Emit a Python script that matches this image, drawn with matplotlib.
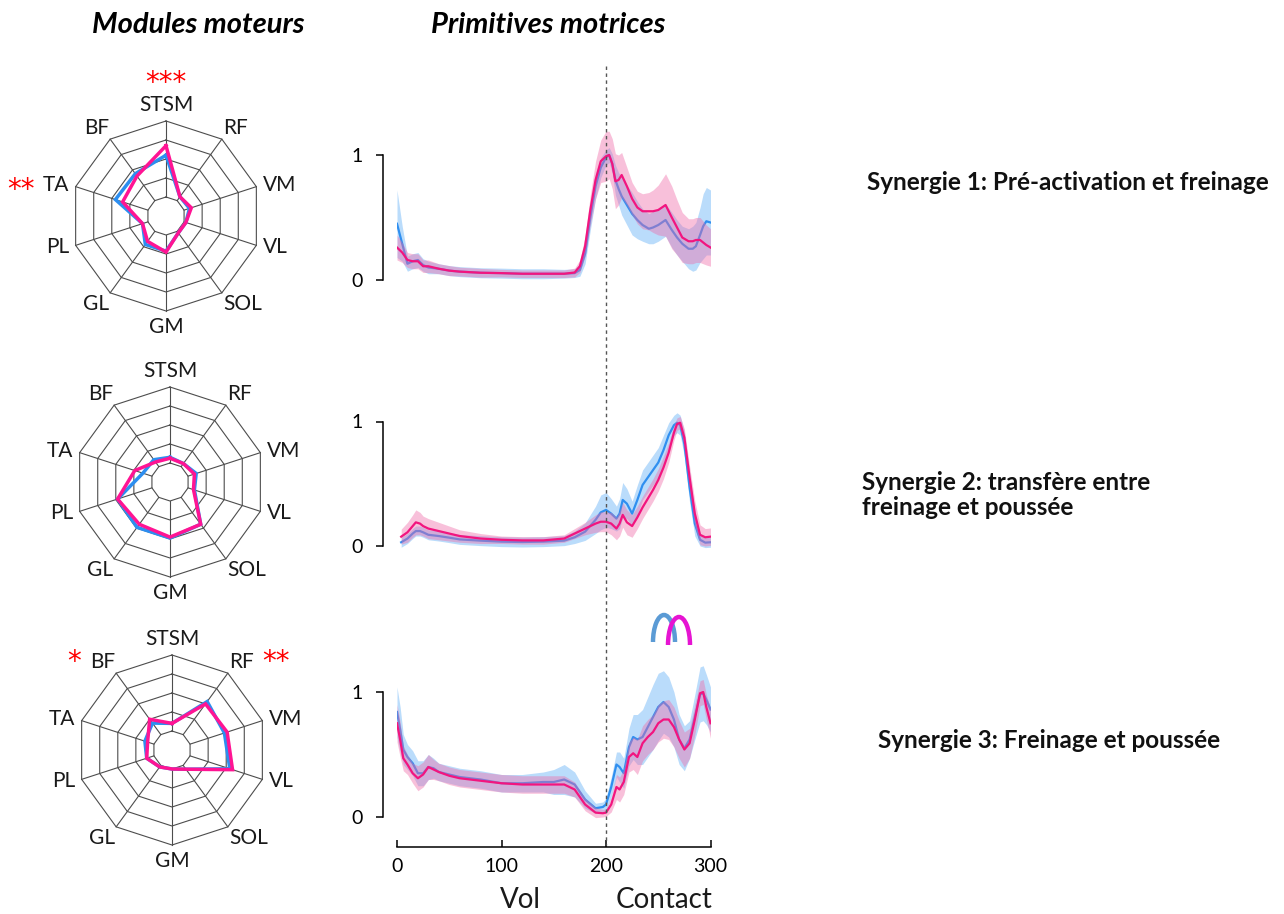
import numpy as np
import matplotlib
matplotlib.use("Agg")
import matplotlib.pyplot as plt
from matplotlib.patches import Arc
from matplotlib.lines import Line2D
import matplotlib.transforms as mtrans

plt.rcParams['font.family'] = ['Lato', 'DejaVu Sans']

# ---------------- data ----------------
muscles = ["STSM", "RF", "VM", "VL", "SOL", "GM", "GL", "PL", "TA", "BF"]

radar1_blue = [0.64, 0.25, 0.26, 0.22, 0.22, 0.37, 0.37, 0.26, 0.56, 0.55]
radar1_pink = [0.74, 0.25, 0.28, 0.22, 0.22, 0.38, 0.33, 0.26, 0.48, 0.52]
radar2_blue = [0.26, 0.24, 0.29, 0.27, 0.55, 0.59, 0.59, 0.58, 0.30, 0.29]
radar2_pink = [0.25, 0.24, 0.27, 0.26, 0.55, 0.58, 0.55, 0.58, 0.39, 0.26]
radar3_blue = [0.28, 0.63, 0.58, 0.64, 0.25, 0.20, 0.22, 0.28, 0.30, 0.35]
radar3_pink = [0.28, 0.60, 0.61, 0.67, 0.25, 0.20, 0.22, 0.28, 0.27, 0.40]

radar1_stars = {"STSM": "***", "TA": "**"}
radar2_stars = {}
radar3_stars = {"BF": "*", "RF": "**"}

# Synergy 1
x1 = [0, 5, 10, 15, 20, 25, 30, 40, 50, 60, 80, 100, 120, 140, 160, 170, 175, 180, 185, 190,
      195, 200, 203, 206, 209, 212, 215, 220, 225, 230, 235, 241, 245, 250, 257, 263, 268, 273,
      279, 283, 286, 290, 293, 296, 300]
blue1 = [0.45, 0.29, 0.13, 0.15, 0.16, 0.12, 0.10, 0.09, 0.075, 0.067, 0.058, 0.055, 0.05, 0.05,
         0.05, 0.055, 0.08, 0.21, 0.50, 0.75, 0.90, 0.98, 1.00, 0.93, 0.80, 0.73, 0.67, 0.60, 0.53,
         0.48, 0.44, 0.41, 0.42, 0.44, 0.48, 0.40, 0.34, 0.29, 0.25, 0.25, 0.27, 0.36, 0.43, 0.47,
         0.46]
blue1_sd = [0.27, 0.14, 0.06, 0.06, 0.06, 0.05, 0.05, 0.04, 0.04, 0.04, 0.04, 0.04, 0.04, 0.04,
            0.035, 0.035, 0.05, 0.08, 0.10, 0.10, 0.08, 0.06, 0.06, 0.08, 0.12, 0.13, 0.15, 0.16,
            0.17, 0.15, 0.13, 0.12, 0.13, 0.13, 0.13, 0.14, 0.14, 0.14, 0.16, 0.18, 0.19, 0.22,
            0.26, 0.27, 0.26]
pink1 = [0.26, 0.22, 0.16, 0.15, 0.15, 0.11, 0.11, 0.09, 0.075, 0.067, 0.058, 0.055, 0.05, 0.05,
         0.05, 0.06, 0.11, 0.27, 0.56, 0.80, 0.95, 0.99, 1.00, 0.93, 0.79, 0.80, 0.84, 0.75, 0.65,
         0.58, 0.55, 0.55, 0.55, 0.56, 0.60, 0.50, 0.42, 0.34, 0.31, 0.31, 0.32, 0.32, 0.30, 0.28,
         0.26]
pink1_sd = [0.10, 0.08, 0.06, 0.06, 0.06, 0.05, 0.05, 0.04, 0.04, 0.035, 0.035, 0.03, 0.03, 0.03,
            0.03, 0.035, 0.05, 0.08, 0.12, 0.15, 0.17, 0.20, 0.19, 0.20, 0.22, 0.20, 0.18, 0.15,
            0.13, 0.13, 0.14, 0.15, 0.17, 0.20, 0.25, 0.25, 0.22, 0.20, 0.18, 0.18, 0.18, 0.18,
            0.17, 0.16, 0.15]

# Synergy 2
x2 = [4, 10, 15, 18, 22, 25, 30, 40, 50, 60, 80, 100, 120, 140, 160, 170, 180, 190, 195, 200,
      205, 210, 213, 216, 220, 225, 230, 235, 240, 245, 250, 255, 260, 265, 268, 271, 275, 280,
      285, 290, 295, 300]
blue2 = [0.03, 0.06, 0.10, 0.12, 0.12, 0.11, 0.09, 0.08, 0.067, 0.053, 0.043, 0.035, 0.032, 0.035,
         0.043, 0.07, 0.115, 0.21, 0.27, 0.29, 0.26, 0.22, 0.26, 0.37, 0.34, 0.26, 0.37, 0.49, 0.55,
         0.61, 0.67, 0.77, 0.89, 0.97, 0.99, 0.97, 0.82, 0.47, 0.18, 0.05, 0.027, 0.03]
blue2_sd = [0.04, 0.04, 0.04, 0.04, 0.04, 0.04, 0.04, 0.04, 0.04, 0.04, 0.04, 0.04, 0.04, 0.04,
            0.04, 0.05, 0.07, 0.11, 0.14, 0.14, 0.12, 0.10, 0.12, 0.14, 0.12, 0.10, 0.12, 0.12,
            0.12, 0.12, 0.12, 0.12, 0.10, 0.08, 0.08, 0.08, 0.10, 0.12, 0.10, 0.05, 0.04, 0.04]
pink2 = [0.075, 0.11, 0.16, 0.19, 0.18, 0.16, 0.14, 0.12, 0.10, 0.08, 0.06, 0.05, 0.045, 0.045,
         0.06, 0.10, 0.14, 0.18, 0.195, 0.195, 0.18, 0.14, 0.18, 0.25, 0.19, 0.16, 0.23, 0.31, 0.38,
         0.45, 0.53, 0.63, 0.75, 0.91, 0.98, 0.99, 0.87, 0.55, 0.26, 0.09, 0.07, 0.075]
pink2_sd = [0.06, 0.08, 0.09, 0.10, 0.09, 0.08, 0.08, 0.07, 0.06, 0.05, 0.04, 0.03, 0.03, 0.03,
            0.03, 0.04, 0.05, 0.07, 0.08, 0.08, 0.09, 0.09, 0.10, 0.10, 0.10, 0.09, 0.09, 0.09,
            0.09, 0.09, 0.09, 0.09, 0.08, 0.06, 0.05, 0.05, 0.07, 0.09, 0.10, 0.08, 0.07, 0.07]

# Synergy 3
x3 = [0, 3, 6, 10, 15, 20, 25, 30, 35, 40, 50, 60, 80, 100, 120, 140, 150, 160, 170, 180, 190,
      197, 200, 205, 210, 213, 217, 222, 226, 230, 235, 240, 245, 250, 255, 260, 265, 270, 275,
      280, 285, 290, 293, 296, 300]
blue3 = [0.84, 0.70, 0.54, 0.48, 0.43, 0.35, 0.35, 0.40, 0.39, 0.36, 0.34, 0.32, 0.30, 0.27, 0.27,
         0.28, 0.28, 0.30, 0.26, 0.14, 0.07, 0.08, 0.10, 0.24, 0.42, 0.40, 0.35, 0.56, 0.64, 0.62,
         0.64, 0.72, 0.80, 0.88, 0.92, 0.88, 0.78, 0.62, 0.55, 0.62, 0.80, 0.98, 0.99, 0.94, 0.86]
blue3_sd = [0.20, 0.18, 0.12, 0.10, 0.10, 0.10, 0.10, 0.10, 0.08, 0.07, 0.07, 0.07, 0.07, 0.07,
            0.07, 0.08, 0.10, 0.12, 0.10, 0.07, 0.04, 0.04, 0.05, 0.08, 0.10, 0.12, 0.12, 0.15,
            0.18, 0.20, 0.22, 0.24, 0.26, 0.27, 0.25, 0.24, 0.22, 0.20, 0.18, 0.15, 0.18, 0.22,
            0.22, 0.20, 0.18]
pink3 = [0.75, 0.62, 0.47, 0.42, 0.35, 0.31, 0.34, 0.40, 0.38, 0.36, 0.33, 0.31, 0.29, 0.27, 0.26,
         0.26, 0.26, 0.26, 0.22, 0.10, 0.035, 0.03, 0.035, 0.10, 0.24, 0.22, 0.28, 0.48, 0.51, 0.48,
         0.59, 0.64, 0.68, 0.75, 0.78, 0.78, 0.72, 0.62, 0.54, 0.59, 0.78, 0.99, 1.00, 0.88, 0.75]
pink3_sd = [0.15, 0.14, 0.10, 0.08, 0.08, 0.10, 0.10, 0.10, 0.08, 0.07, 0.07, 0.07, 0.07, 0.07,
            0.07, 0.07, 0.07, 0.07, 0.06, 0.05, 0.04, 0.03, 0.03, 0.06, 0.10, 0.10, 0.10, 0.12,
            0.13, 0.14, 0.14, 0.14, 0.14, 0.15, 0.15, 0.16, 0.16, 0.15, 0.14, 0.12, 0.12, 0.10,
            0.10, 0.10, 0.12]

synergy_titles = ["Synergie 1: Pré-activation et freinage",
                  "Synergie 2: transfère entre\nfreinage et poussée",
                  "Synergie 3: Freinage et poussée"]
x_ticks = [0, 100, 200, 300]
y_ticks = [0, 1]
phase_labels = ["Vol", "Contact"]
contact_x = 200

# ---------------- style ----------------
W, H = 1284, 914
BLUE_LINE = "#2f8ff0"
PINK_LINE = "#f2157f"
BLUE_FILL = "#4aa3f5"
PINK_FILL = "#f06aa8"
RADAR_BLUE = "#2c8ef0"
RADAR_PINK = "#ff1493"

fig = plt.figure(figsize=(W / 100, H / 100), dpi=100)


def px_axes(x0, y0, x1, y1):
    return fig.add_axes([x0 / W, 1 - y1 / H, (x1 - x0) / W, (y1 - y0) / H])


# overlay in pixel coordinates (y downward)
ov = fig.add_axes([0, 0, 1, 1], zorder=10)
ov.set_xlim(0, W)
ov.set_ylim(H, 0)
ov.axis("off")
ov.patch.set_alpha(0)

# ---------------- radars ----------------
R = 95.0
n = len(muscles)
angles = np.deg2rad(90 - 36 * np.arange(n))
STAR_KW = dict(color="red", fontsize=20, family="DejaVu Sans")


def radar(cx, cy, blue, pink, stars):
    half = 145
    ax = px_axes(cx - half, cy - half, cx + half, cy + half)
    lim = half / R
    ax.set_xlim(-lim, lim)
    ax.set_ylim(-lim, lim)
    ax.set_aspect("equal")
    ax.axis("off")
    ca, sa = np.cos(angles), np.sin(angles)
    for r in [0.2, 0.4, 0.6, 0.8, 1.0]:
        ax.plot(np.append(ca, ca[0]) * r, np.append(sa, sa[0]) * r, color="#4d4d4d", lw=0.8,
                zorder=1)
    for c, s in zip(ca, sa):
        ax.plot([0.2 * c, c], [0.2 * s, s], color="#4d4d4d", lw=0.8, zorder=1)
    for vals, col in [(blue, RADAR_BLUE), (pink, RADAR_PINK)]:
        v = np.array(vals)
        ax.plot(np.append(v * ca, v[0] * ca[0]), np.append(v * sa, v[0] * sa[0]), color=col,
                lw=2.5, solid_joinstyle="miter", zorder=3)
    for name, c, s in zip(muscles, ca, sa):
        if abs(c) < 0.1:
            ha = "center"
            va = "bottom" if s > 0 else "top"
            r = 1.06
        elif abs(s) < 0.5:
            ha = "left" if c > 0 else "right"
            va = "center"
            r = 1.07
        else:
            ha = "left" if c > 0 else "right"
            va = "bottom" if s > 0 else "top"
            r = 1.02
        ax.text(r * c, r * s, name, ha=ha, va=va, fontsize=15, color="#1a1a1a")
        if name in stars:
            st = stars[name]
            if ha == "center":
                ax.text(r * c, r * s + 0.19, st, ha="center", va="bottom", **STAR_KW)
            elif ha == "right":
                ax.text(r * c - 0.36, r * s + (0.10 if va == "bottom" else -0.06), st,
                        ha="right", va="center", **STAR_KW)
            else:
                ax.text(r * c + 0.35, r * s + (0.10 if va == "bottom" else -0.06), st,
                        ha="left", va="center", **STAR_KW)
    return ax


radar(166, 216, radar1_blue, radar1_pink, radar1_stars)
radar(170, 482, radar2_blue, radar2_pink, radar2_stars)
radar(172, 750, radar3_blue, radar3_pink, radar3_stars)

# ---------------- line charts ----------------
XL, XR = 397, 710.5
YLO, YHI = -0.15, 1.3
chart_rows = [(155, 280), (421.5, 546), (692, 817)]
series = [(x1, blue1, blue1_sd, pink1, pink1_sd),
          (x2, blue2, blue2_sd, pink2, pink2_sd),
          (x3, blue3, blue3_sd, pink3, pink3_sd)]
axes = []
for i, ((y1px, y0px), (xs, b, bs, p, ps)) in enumerate(zip(chart_rows, series)):
    per = (y0px - y1px)
    top = y1px - (YHI - 1) * per
    bot = y0px - YLO * per
    ax = px_axes(XL, top, XR, bot)
    xs = np.array(xs)
    b, bs, p, ps = map(np.array, (b, bs, p, ps))
    ax.fill_between(xs, b - bs, b + bs, color=BLUE_FILL, alpha=0.38, lw=0, zorder=1)
    ax.plot(xs, b, color=BLUE_LINE, lw=1.6, zorder=2)
    ax.fill_between(xs, p - ps, p + ps, color=PINK_FILL, alpha=0.42, lw=0, zorder=3)
    ax.plot(xs, p, color=PINK_LINE, lw=1.6, zorder=4)
    ax.set_xlim(0, 300)
    ax.set_ylim(YLO, YHI)
    ax.patch.set_alpha(0)
    for s in ["top", "right"]:
        ax.spines[s].set_visible(False)
    ax.spines["left"].set_position(("outward", 10))
    ax.spines["left"].set_bounds(0, 1)
    ax.spines["left"].set_linewidth(1.1)
    ax.set_yticks(y_ticks)
    ax.set_yticklabels([str(v) for v in y_ticks])
    ax.tick_params(axis="y", length=5, width=1.1, pad=10, labelsize=14)
    if i < 2:
        ax.spines["bottom"].set_visible(False)
        ax.set_xticks([])
    else:
        ax.spines["bottom"].set_position(("outward", (847 - bot) * 0.72))
        ax.spines["bottom"].set_bounds(0, 300)
        ax.spines["bottom"].set_linewidth(1.1)
        ax.set_xticks(x_ticks)
        ax.tick_params(axis="x", direction="in", length=5, width=1.1, pad=8, labelsize=14)
    axes.append(ax)

# dashed contact line spanning all charts
tr = mtrans.blended_transform_factory(axes[2].transData, ov.transData)
ov.add_line(Line2D([contact_x, contact_x], [66, 845], transform=tr, color="#555555",
                   lw=1.0, ls=(0, (2.5, 2.5)), clip_on=False))

# phase labels
ov.text(520, 900, phase_labels[0], ha="center", va="center", fontsize=20, color="#1a1a1a")
ov.text(664, 900, phase_labels[1], ha="center", va="center", fontsize=20, color="#1a1a1a")

# titles
ov.text(198, 25, "Modules moteurs", ha="center", va="center", fontsize=21,
        fontweight="bold", fontstyle="italic")
ov.text(548, 25, "Primitives motrices", ha="center", va="center", fontsize=21,
        fontweight="bold", fontstyle="italic")

# synergy descriptions
ov.text(867, 182, synergy_titles[0], ha="left", va="center", fontsize=17.5, fontweight="bold",
        color="#111111")
ov.text(862, 495, synergy_titles[1], ha="left", va="center", fontsize=17.5, fontweight="bold",
        color="#111111", linespacing=1.15)
ov.text(878, 741, synergy_titles[2], ha="left", va="center", fontsize=17.5, fontweight="bold",
        color="#111111")

# shift icon (two arches); overlay y axis points down, so upper half is 180..360
ov.add_patch(Arc((664, 642), 22, 54, theta1=180, theta2=360, color="#5b9bd5", lw=3.2))
ov.add_patch(Arc((679, 645), 22, 56, theta1=180, theta2=360, color="#e614d2", lw=3.2))

fig.savefig("out.png", dpi=100)
